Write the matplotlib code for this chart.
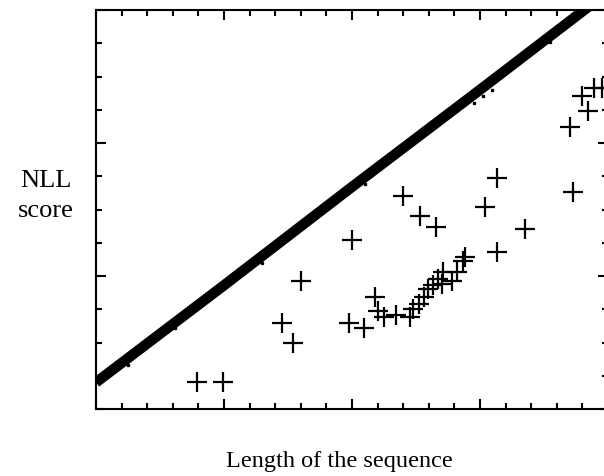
import matplotlib
matplotlib.use("Agg")
import matplotlib.pyplot as plt
from matplotlib.ticker import MultipleLocator, NullFormatter

# centre line of the dense band of scores
band_x = [0.0, 1.0, 2.0, 3.0, 3.95]
band_y = [0.20, 0.93, 1.67, 2.40, 3.10]

# a few stray dots just below the band
stray_x = [0.25, 0.62, 1.30, 2.10, 2.95, 3.02, 3.09, 3.55]
stray_y = [0.33, 0.61, 1.10, 1.69, 2.30, 2.35, 2.40, 2.76]

# "+" outliers
plus_x = [0.79, 0.99, 1.45, 1.54, 1.60, 2.00, 1.98, 2.09, 2.18, 2.20,
          2.25, 2.34, 2.45, 2.48, 2.52, 2.56, 2.59, 2.63, 2.67, 2.71,
          2.70, 2.78, 2.82, 2.87, 2.88, 2.40, 2.53, 2.66, 3.04, 3.13,
          3.35, 3.13, 3.73, 3.70, 3.80, 3.84, 3.89, 3.95]
plus_y = [0.20, 0.20, 0.65, 0.50, 0.96, 1.27, 0.65, 0.61, 0.84, 0.74,
          0.69, 0.71, 0.69, 0.75, 0.79, 0.84, 0.90, 0.93, 0.98, 1.03,
          0.94, 0.96, 1.03, 1.11, 1.14, 1.60, 1.45, 1.37, 1.52, 1.74,
          1.35, 1.18, 1.63, 2.12, 2.35, 2.24, 2.41, 2.41]

fig = plt.figure(figsize=(6.04, 4.77), dpi=100)
# right spine sits just outside the picture
ax = fig.add_axes([96 / 604, 67 / 477, 512 / 604, 399 / 477])

ax.plot(band_x, band_y, color="black", linewidth=7.5, solid_capstyle="butt")
ax.plot(stray_x, stray_y, "s", color="black", markersize=1.5)
ax.plot(plus_x, plus_y, "+", color="black", markersize=15, markeredgewidth=1.6)

ax.set_xlim(0, 4)
ax.set_ylim(0, 3)
ax.xaxis.set_major_locator(MultipleLocator(1))
ax.xaxis.set_minor_locator(MultipleLocator(0.2))
ax.yaxis.set_major_locator(MultipleLocator(1))
ax.yaxis.set_minor_locator(MultipleLocator(0.25))
ax.xaxis.set_major_formatter(NullFormatter())
ax.yaxis.set_major_formatter(NullFormatter())
ax.tick_params(which="both", direction="in", top=True, right=True, width=1.5)
ax.tick_params(which="major", length=7)
ax.tick_params(which="minor", length=4)
for s in ax.spines.values():
    s.set_linewidth(1.5)

fig.text(46 / 604, 1 - 196 / 477, "NLL\nscore", ha="center", va="center",
         fontsize=19, family="Liberation Serif", linespacing=1.45)
fig.text(339 / 604, 1 - 462 / 477, "Length of the sequence", ha="center",
         va="center", fontsize=17.5, family="Liberation Serif")

fig.savefig("out.png", dpi=100)
